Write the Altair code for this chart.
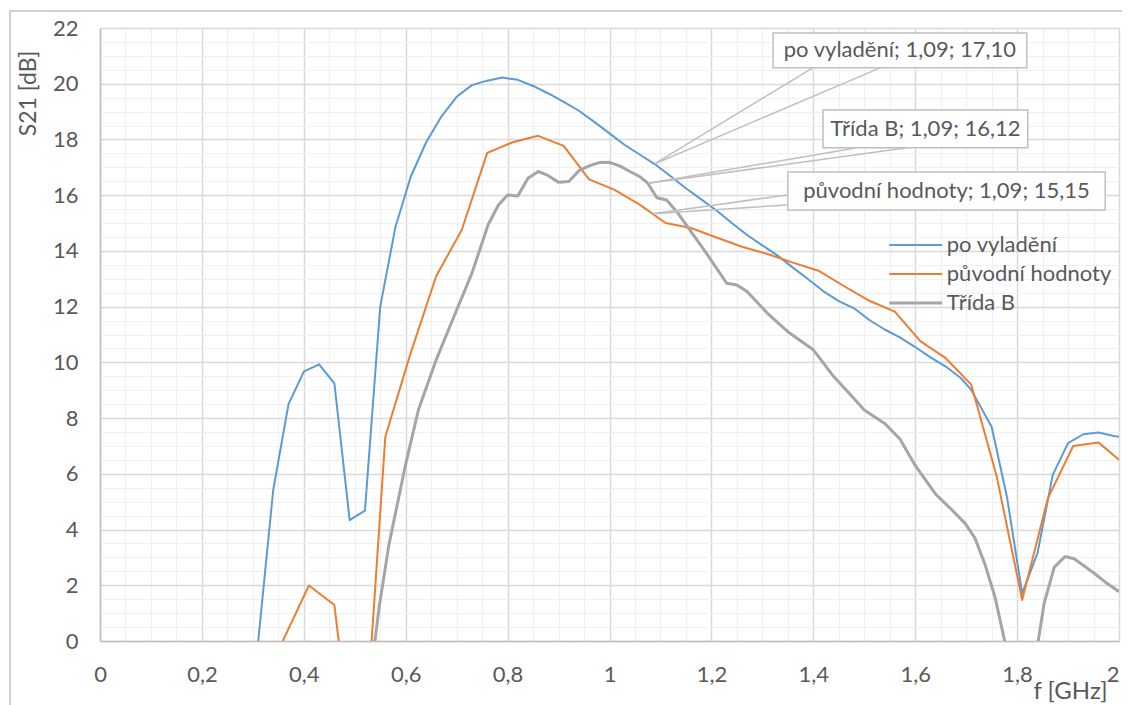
import altair as alt
import pandas as pd

# ---------------- data ----------------
series_names = ["po vyladění", "původní hodnoty", "Třída B"]
series_colors = ["#5B9BD5", "#ED7D31", "#A5A5A5"]

f_blue = [0.28, 0.31, 0.34, 0.37, 0.40, 0.43, 0.46, 0.49, 0.52, 0.55, 0.58, 0.61, 0.64, 0.67,
          0.70, 0.73, 0.76, 0.79, 0.82, 0.85, 0.88, 0.91, 0.94, 0.97, 1.00, 1.03, 1.06, 1.09,
          1.12, 1.15, 1.18, 1.21, 1.24, 1.27, 1.30, 1.33, 1.36, 1.39, 1.42, 1.45, 1.48, 1.51,
          1.54, 1.57, 1.60, 1.63, 1.66, 1.69, 1.71, 1.75, 1.78, 1.81, 1.84, 1.87, 1.90, 1.93,
          1.96, 1.99, 2.02]
s_blue = [-6.0, -0.1, 5.42, 8.50, 9.67, 9.93, 9.25, 4.34, 4.68, 12.0, 14.87, 16.67, 17.89, 18.82,
          19.53, 19.95, 20.11, 20.22, 20.14, 19.92, 19.65, 19.35, 19.03, 18.63, 18.22, 17.80, 17.45, 17.10,
          16.68, 16.25, 15.85, 15.45, 15.00, 14.57, 14.20, 13.83, 13.40, 12.98, 12.55, 12.20, 11.94, 11.52,
          11.18, 10.90, 10.55, 10.18, 9.85, 9.43, 9.01, 7.69, 5.18, 1.71, 3.15, 5.96, 7.10, 7.42,
          7.48, 7.36, 7.28]

f_orange = [0.31, 0.36, 0.41, 0.46, 0.51, 0.56, 0.61, 0.66, 0.71, 0.76, 0.81, 0.86, 0.91, 0.96,
            1.01, 1.06, 1.11, 1.16, 1.21, 1.26, 1.31, 1.36, 1.41, 1.46, 1.51, 1.56, 1.61, 1.66,
            1.71, 1.76, 1.81, 1.86, 1.91, 1.96, 2.01]
s_orange = [-3.0, 0.05, 1.99, 1.29, -6.3, 7.33, 10.35, 13.10, 14.75, 17.52, 17.90, 18.13, 17.77, 16.57,
            16.19, 15.65, 15.00, 14.82, 14.48, 14.15, 13.89, 13.58, 13.29, 12.74, 12.21, 11.82, 10.76, 10.15,
            9.20, 5.90, 1.47, 5.10, 7.00, 7.12, 6.35]

f_gray = [0.52, 0.548, 0.567, 0.60, 0.625, 0.66, 0.70, 0.73, 0.762, 0.782, 0.80, 0.82, 0.84, 0.86,
          0.877, 0.90, 0.92, 0.94, 0.96, 0.98, 1.00, 1.02, 1.04, 1.06, 1.075, 1.093, 1.112, 1.132,
          1.16, 1.19, 1.23, 1.25, 1.27, 1.31, 1.35, 1.40, 1.42, 1.44, 1.47, 1.50, 1.54, 1.57,
          1.60, 1.64, 1.668, 1.698, 1.717, 1.737, 1.757, 1.79, 1.82, 1.853, 1.873, 1.894, 1.912,
          1.95, 1.972, 2.00]
s_gray = [-2.9, 1.23, 3.45, 6.35, 8.30, 10.10, 11.88, 13.20, 14.95, 15.65, 16.01, 15.97, 16.61, 16.85,
          16.73, 16.46, 16.49, 16.88, 17.05, 17.17, 17.18, 17.05, 16.85, 16.66, 16.43, 15.91, 15.83, 15.41,
          14.69, 13.92, 12.84, 12.78, 12.54, 11.76, 11.10, 10.45, 9.97, 9.49, 8.90, 8.29, 7.81, 7.25,
          6.30, 5.27, 4.78, 4.22, 3.70, 2.75, 1.55, -1.20, -2.50, 1.35, 2.65, 3.03, 2.95,
          2.45, 2.13, 1.77]

# callouts (data labels), in data units
callout_text = ["po vyladění; 1,09; 17,10", "Třída B; 1,09; 16,12", "původní hodnoty; 1,09; 15,15"]
callout_x1 = [1.321, 1.419, 1.350]
callout_x2 = [1.819, 1.821, 1.973]
callout_y1 = [20.57, 17.70, 15.47]
callout_y2 = [21.82, 19.06, 16.83]
# leader wedges: two lines per callout from the box edge to the point
lead_x = [1.399, 1.531, 1.486, 1.584, 1.348, 1.348]
lead_y = [20.57, 20.57, 17.70, 17.70, 16.01, 15.65]
lead_x2 = [1.089, 1.089, 1.076, 1.076, 1.085, 1.085]
lead_y2 = [17.13, 17.13, 16.43, 16.43, 15.33, 15.33]

# legend placement (data units)
legend_x1 = 1.549
legend_x2 = 1.653
legend_tx = 1.662
legend_y = [14.21, 13.17, 12.13]

# ---------------- tables ----------------
rows = []
for name, fs, ss in zip(series_names, [f_blue, f_orange, f_gray], [s_blue, s_orange, s_gray]):
    for f, s in zip(fs, ss):
        rows.append({"series": name, "f": f, "s21": s})
df = pd.DataFrame(rows)

callouts = pd.DataFrame({"text": callout_text, "x1": callout_x1, "x2": callout_x2,
                         "y1": callout_y1, "y2": callout_y2})
callouts["xc"] = (callouts.x1 + callouts.x2) / 2
callouts["yc"] = (callouts.y1 + callouts.y2) / 2
leaders = pd.DataFrame({"x": lead_x, "y": lead_y, "x2": lead_x2, "y2": lead_y2})
legend_df = pd.DataFrame({"series": series_names, "y": legend_y,
                          "x1": [legend_x1] * 3, "x2": [legend_x2] * 3, "tx": [legend_tx] * 3})

FONT = "Lato"
TXT = "#595959"
GRAY_NAME = series_names[2]

major_x = "abs(datum.value*5 - round(datum.value*5)) < 0.001"
major_y = "abs(datum.value/2 - round(datum.value/2)) < 0.001"

x_scale = alt.Scale(domain=[0, 2], nice=False, zero=False)
y_scale = alt.Scale(domain=[0, 22], nice=False, zero=False)

x_axis = alt.Axis(
    values=[round(i * 0.05, 2) for i in range(41)],
    grid=True,
    gridColor={"condition": {"test": major_x, "value": "#D9D9D9"}, "value": "#F0F0F0"},
    gridWidth={"condition": {"test": major_x, "value": 1.5}, "value": 1.2},
    labelExpr=f"{major_x} ? replace(format(datum.value, '~g'), '.', ',') : ''",
    labelAlign={"condition": {"test": "datum.value > 1.99", "value": "right"}, "value": "center"},
    labelOverlap=False, labelFlush=False, labelBound=False,
    ticks=False, domainColor="#BFBFBF", domainWidth=1.5,
    labelFont=FONT, labelFontSize=22, labelColor=TXT, labelPadding=23,
    title="f [GHz]", titleFont=FONT, titleFontSize=24, titleFontWeight="normal", titleColor=TXT,
    titleX=970, titleY=50, titleAlign="center", titleBaseline="middle",
)
y_axis = alt.Axis(
    values=[i * 0.5 for i in range(45)],
    grid=True,
    gridColor={"condition": {"test": major_y, "value": "#D9D9D9"}, "value": "#F0F0F0"},
    gridWidth={"condition": {"test": major_y, "value": 1.5}, "value": 1.2},
    labelExpr=f"{major_y} ? format(datum.value, 'd') : ''",
    labelOverlap=False, labelFlush=False, labelBound=False,
    ticks=False, domainColor="#BFBFBF", domainWidth=1.5,
    labelFont=FONT, labelFontSize=22, labelColor=TXT, labelPadding=22,
    title="S21 [dB]", titleFont=FONT, titleFontSize=23, titleFontWeight="normal", titleColor=TXT,
    titleX=-72, titleY=65, titleAlign="center", titleBaseline="middle", titleAngle=270,
)

color_scale = alt.Scale(domain=series_names, range=series_colors)


def X(field):
    return alt.X(field, type="quantitative", scale=x_scale, axis=x_axis)


def Y(field):
    return alt.Y(field, type="quantitative", scale=y_scale, axis=y_axis)


is_gray = alt.datum.series == GRAY_NAME
not_gray = alt.datum.series != GRAY_NAME

border = alt.Chart(pd.DataFrame({"a": [0]})).mark_rect(
    fill="transparent", stroke="#D0D0D0", strokeWidth=2
).encode(x=alt.value(-90), x2=alt.value(1040), y=alt.value(-17), y2=alt.value(700))

line_base = alt.Chart(df).encode(
    x=X("f"),
    y=Y("s21"),
    color=alt.Color("series:N", scale=color_scale, legend=None),
    order=alt.Order("f:Q"),
)
lines_bo = line_base.transform_filter(not_gray).mark_line(clip=True, strokeJoin="round", strokeWidth=2)
lines_g = line_base.transform_filter(is_gray).mark_line(clip=True, strokeJoin="round", strokeWidth=3)

lead = alt.Chart(leaders).mark_rule(color="#BFBFBF", strokeWidth=1.5).encode(
    x=X("x"), y=Y("y"), x2="x2:Q", y2="y2:Q",
)

boxes = alt.Chart(callouts).mark_rect(fill="white", stroke="#BFBFBF", strokeWidth=1.5).encode(
    x=X("x1"), x2="x2:Q", y=Y("y1"), y2="y2:Q",
)

box_text = alt.Chart(callouts).mark_text(
    font=FONT, fontSize=22, color=TXT, align="center", baseline="middle"
).encode(x=X("xc"), y=Y("yc"), text="text:N")

leg_base = alt.Chart(legend_df).encode(
    x=X("x1"), x2="x2:Q", y=Y("y"),
    color=alt.Color("series:N", scale=color_scale, legend=None),
)
leg_lines_bo = leg_base.transform_filter(not_gray).mark_rule(strokeWidth=2)
leg_lines_g = leg_base.transform_filter(is_gray).mark_rule(strokeWidth=3)
leg_text = alt.Chart(legend_df).mark_text(
    font=FONT, fontSize=22, color=TXT, align="left", baseline="middle"
).encode(x=X("tx"), y=Y("y"), text="series:N")

chart = alt.layer(border, lines_bo, lines_g, lead, boxes, box_text,
                  leg_lines_bo, leg_lines_g, leg_text).properties(
    width=1019, height=613,
    autosize=alt.AutoSizeParams(type="none"),
    padding={"left": 92, "top": 20, "right": 3, "bottom": 64},
    background="white",
).configure_view(stroke=None)

chart.save("out.html", embed_options={"renderer": "svg", "actions": False})
